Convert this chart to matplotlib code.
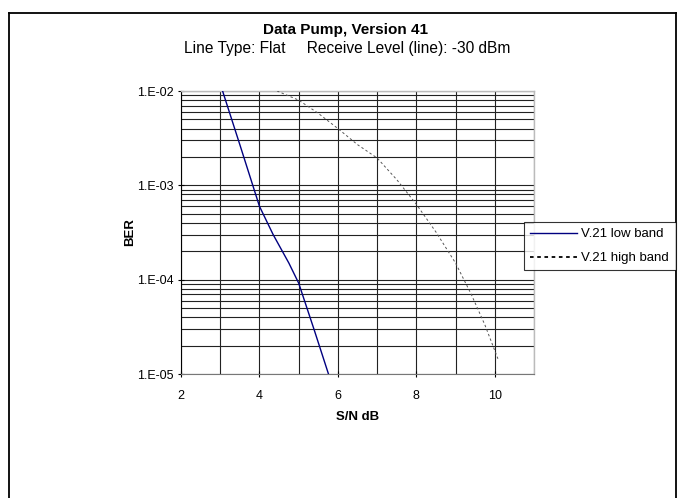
import matplotlib
matplotlib.use("Agg")
import matplotlib.pyplot as plt
from matplotlib.lines import Line2D
from matplotlib.ticker import FixedLocator, LogLocator, NullFormatter

plt.rcParams['font.family'] = ['Liberation Sans', 'DejaVu Sans']

title = "Data Pump, Version 41"
subtitle = "Line Type: Flat     Receive Level (line): -30 dBm"
x_label = "S/N dB"
y_label = "BER"
series_names = ["V.21 low band", "V.21 high band"]

snr_low = [3.06, 3.5, 3.83, 4.0, 4.35, 4.75, 5.0, 5.4, 5.76]
ber_low = [1.0e-2, 2.7e-3, 1.0e-3, 6.0e-4, 3.0e-4, 1.5e-4, 9.2e-5, 2.9e-5, 1.0e-5]

snr_high = [4.45, 5.0, 5.5, 6.0, 6.5, 7.0, 7.5, 8.0, 8.5, 9.0, 9.4, 9.75, 10.08]
ber_high = [1.0e-2, 8.0e-3, 5.8e-3, 4.0e-3, 2.7e-3, 1.95e-3, 1.15e-3, 6.3e-4,
            3.2e-4, 1.5e-4, 7.0e-5, 3.3e-5, 1.45e-5]

x_ticks = [2, 4, 6, 8, 10]
y_ticks = [1e-2, 1e-3, 1e-4, 1e-5]
y_tick_labels = ["1.E-02", "1.E-03", "1.E-04", "1.E-05"]

fig = plt.figure(figsize=(6.81, 4.98), dpi=100)
W, H = 681, 498

# outer chart frame
fig.add_artist(Line2D([9/W, 9/W], [0, 1 - 13.5/H], color='black', lw=1.3))
fig.add_artist(Line2D([9/W, 676/W], [1 - 13.5/H, 1 - 13.5/H], color='black', lw=1.3))
fig.add_artist(Line2D([676/W, 676/W], [0, 1 - 13.5/H], color='black', lw=1.3))

ax = fig.add_axes([181/W, 1 - 374/H, 353/W, 283/H])
ax.set_yscale('log')
ax.set_xlim(2, 11)
ax.set_ylim(1e-5, 1e-2)

ax.plot(snr_low, ber_low, color='#000080', lw=1.0, zorder=3)
ax.plot(snr_high, ber_high, color='#555555', lw=0.7, dashes=(2.5, 2.5), zorder=3)

ax.set_xticks(x_ticks)
ax.xaxis.set_minor_locator(FixedLocator(range(2, 12)))
ax.set_yticks(y_ticks)
ax.set_yticklabels(y_tick_labels)
ax.yaxis.set_minor_locator(LogLocator(base=10, subs=range(2, 10)))
ax.yaxis.set_minor_formatter(NullFormatter())

ax.grid(True, which='major', axis='both', color='#222222', lw=0.8)
ax.grid(True, which='minor', axis='both', color='#222222', lw=0.8)

ax.tick_params(axis='both', which='major', direction='inout', length=5, width=0.8,
               labelsize=9, colors='black')
ax.tick_params(axis='x', which='major', pad=9)
ax.tick_params(axis='y', which='major', pad=3)
ax.tick_params(axis='both', which='minor', length=0)

for s in ['top', 'right']:
    ax.spines[s].set_color('#bbbbbb')
    ax.spines[s].set_linewidth(1.0)
ax.spines['bottom'].set_color('#777777')
ax.spines['left'].set_color('black')
ax.spines['left'].set_linewidth(0.8)

ax.set_xlabel(x_label, fontsize=9.5, fontweight='bold')
ax.set_ylabel(y_label, fontsize=9.5, fontweight='bold')
ax.xaxis.set_label_coords(0.5, (374 - 411) / 283)
ax.yaxis.set_label_coords((136 - 181) / 353, 0.5)

fig.text(345/W, 1 - 30/H, title, ha='center', va='center', fontsize=11, fontweight='bold')
fig.text(347/W, 1 - 48/H, subtitle, ha='center', va='center', fontsize=11.2)

handles = [Line2D([], [], color='#000080', lw=1.0),
           Line2D([], [], color='black', lw=1.3, dashes=(2, 2))]
leg = fig.legend(handles, series_names, loc='upper left',
                 bbox_to_anchor=(524/W, 1 - 271/H, 152/W, 49/H),
                 mode='expand', fontsize=9.5, frameon=True, fancybox=False,
                 handlelength=3.6, handletextpad=0.3, borderpad=0.45,
                 labelspacing=0.9, borderaxespad=0)
leg.get_frame().set_edgecolor('black')
leg.get_frame().set_linewidth(0.8)

fig.savefig('out.png', dpi=100)
